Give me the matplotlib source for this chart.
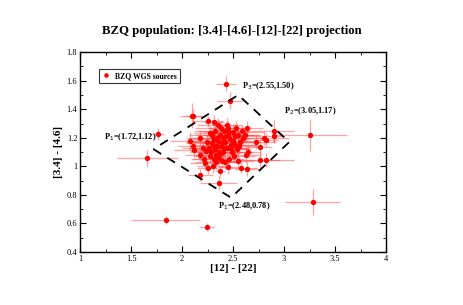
import numpy as np
import matplotlib
matplotlib.use("Agg")
import matplotlib.pyplot as plt
from matplotlib.ticker import MultipleLocator, FormatStrFormatter

plt.rcParams['font.family'] = ['Liberation Serif', 'DejaVu Serif']

# [12]-[22] colour, [3.4]-[4.6] colour and their errors
x = [2.43, 2.47, 2.10, 2.11, 1.765, 1.66, 3.255, 3.28, 1.84, 2.24,
     2.36, 2.18, 2.37, 2.90, 2.90, 2.80, 2.82, 2.76, 2.76, 2.82,
     2.72, 2.64, 2.58, 2.45, 2.64, 2.59, 2.55, 2.63, 2.08, 2.11,
     2.12, 2.18, 2.18, 2.25, 2.31, 2.21, 2.22, 2.25, 2.30, 2.33,
     2.60, 2.62, 2.56, 2.54, 2.65, 2.41, 2.44, 2.35, 2.38, 2.50,
     2.30, 2.32, 2.35, 2.38, 2.40, 2.42, 2.45, 2.47, 2.28, 2.26,
     2.33, 2.36, 2.40, 2.44, 2.48, 2.50, 2.52, 2.46, 2.43, 2.37,
     2.31, 2.29, 2.34, 2.39, 2.41, 2.36, 2.27, 2.24, 2.23, 2.49,
     2.51, 2.46, 2.42, 2.38, 2.32, 2.29, 2.45, 2.53, 2.55, 2.48,
     2.34, 2.27, 2.20, 2.31, 2.39, 2.57, 2.52]
y = [1.58, 1.46, 1.355, 1.35, 1.225, 1.055, 1.22, 0.75, 0.625, 0.575,
     0.885, 0.94, 0.965, 1.245, 1.21, 1.20, 1.185, 1.135, 1.045, 1.045,
     1.17, 0.98, 0.99, 0.995, 1.27, 1.25, 1.04, 1.08, 1.18, 1.145,
     1.115, 1.08, 1.195, 1.315, 1.31, 1.05, 1.02, 0.985, 1.00, 1.03,
     1.20, 1.22, 1.14, 1.12, 1.10, 1.25, 1.29, 1.29, 1.27, 1.24,
     1.15, 1.12, 1.18, 1.14, 1.20, 1.17, 1.22, 1.19, 1.10, 1.13,
     1.08, 1.06, 1.10, 1.13, 1.15, 1.18, 1.21, 1.24, 1.21, 1.22,
     1.19, 1.16, 1.14, 1.16, 1.13, 1.10, 1.07, 1.17, 1.11, 1.10,
     1.07, 1.05, 1.03, 1.09, 1.25, 1.22, 1.27, 1.27, 1.22, 1.12,
     1.20, 1.23, 1.13, 1.05, 1.04, 1.17, 1.15]
xerr = [0.10, 0.13, 0.12, 0.08, 0.06, 0.30, 0.36, 0.27, 0.34, 0.07,
        0.18, 0.12, 0.05, 0.20, 0.10, 0.25, 0.12, 0.12, 0.20, 0.28,
        0.20, 0.12, 0.15, 0.10, 0.15, 0.12, 0.15, 0.12, 0.20, 0.15,
        0.20, 0.15, 0.10, 0.15, 0.10, 0.12, 0.14, 0.10, 0.15, 0.20,
        0.20, 0.15, 0.18, 0.12, 0.10, 0.25, 0.15, 0.20, 0.25, 0.30,
        0.20, 0.25, 0.30, 0.20, 0.25, 0.30, 0.25, 0.20, 0.20, 0.15,
        0.20, 0.20, 0.25, 0.20, 0.25, 0.20, 0.25, 0.20, 0.20, 0.30,
        0.20, 0.25, 0.20, 0.20, 0.25, 0.20, 0.15, 0.20, 0.15, 0.20,
        0.20, 0.15, 0.15, 0.20, 0.20, 0.15, 0.20, 0.15, 0.20, 0.20,
        0.30, 0.15, 0.20, 0.20, 0.20, 0.20, 0.20]
yerr = [0.05, 0.06, 0.09, 0.05, 0.04, 0.06, 0.11, 0.09, 0.03, 0.03,
        0.05, 0.04, 0.04, 0.08, 0.04, 0.05, 0.05, 0.07, 0.06, 0.05,
        0.05, 0.05, 0.04, 0.05, 0.05, 0.04, 0.05, 0.06, 0.06, 0.04,
        0.05, 0.04, 0.05, 0.04, 0.05, 0.05, 0.05, 0.04, 0.05, 0.05,
        0.05, 0.05, 0.05, 0.05, 0.04, 0.05, 0.05, 0.05, 0.05, 0.05,
        0.05, 0.05, 0.05, 0.05, 0.04, 0.05, 0.05, 0.05, 0.05, 0.05,
        0.05, 0.06, 0.05, 0.05, 0.05, 0.05, 0.05, 0.05, 0.05, 0.05,
        0.05, 0.05, 0.05, 0.05, 0.05, 0.05, 0.05, 0.05, 0.05, 0.05,
        0.05, 0.05, 0.05, 0.05, 0.05, 0.05, 0.05, 0.05, 0.05, 0.05,
        0.05, 0.05, 0.05, 0.05, 0.05, 0.05, 0.05]

# projection box corners
box_x = [1.72, 2.48, 3.05, 2.55, 1.72]
box_y = [1.12, 0.78, 1.17, 1.50, 1.12]

fig = plt.figure(figsize=(4.63, 3.05), dpi=100)
ax = fig.add_axes([0.173, 0.174, 0.661, 0.655])

ax.errorbar(x, y, xerr=xerr, yerr=yerr, fmt='none', ecolor='#ff4848',
            elinewidth=0.9, alpha=0.5, zorder=2)
ax.plot(x, y, 'o', color='red', ms=2.8, zorder=3, label='BZQ WGS sources')
ax.plot(box_x, box_y, '--', color='black', lw=1.3, dashes=(5, 4), zorder=4)

fs = 6
ax.text(2.59, 1.55, 'P$_3$=(2.55,1.50)', fontsize=fs, fontweight='bold')
ax.text(3.00, 1.37, 'P$_2$=(3.05,1.17)', fontsize=fs, fontweight='bold')
ax.text(1.23, 1.19, 'P$_1$=(1.72,1.12)', fontsize=fs, fontweight='bold')
ax.text(2.35, 0.71, 'P$_1$=(2.48,0.78)', fontsize=fs, fontweight='bold')

ax.set_xlim(1, 4)
ax.set_ylim(0.4, 1.8)
ax.xaxis.set_major_locator(MultipleLocator(0.5))
ax.xaxis.set_minor_locator(MultipleLocator(0.25))
ax.yaxis.set_major_locator(MultipleLocator(0.2))
ax.yaxis.set_minor_locator(MultipleLocator(0.1))
ax.xaxis.set_major_formatter(FormatStrFormatter('%g'))
ax.yaxis.set_major_formatter(FormatStrFormatter('%g'))
ax.tick_params(which='both', direction='in', top=True, right=True,
               labelsize=6, pad=2)
ax.tick_params(which='major', length=4)
ax.tick_params(which='minor', length=2)
for s in ax.spines.values():
    s.set_linewidth(1.0)

ax.set_xlabel('[12] - [22]', fontsize=8, fontweight='bold', labelpad=1)
ax.set_ylabel('[3.4] - [4.6]', fontsize=8, fontweight='bold', labelpad=3)
fig.text(0.5, 0.89, 'BZQ population: [3.4]-[4.6]-[12]-[22] projection',
         ha='center', fontsize=9.2, fontweight='bold')

leg = ax.legend(loc='upper left', bbox_to_anchor=(0.048, 0.935),
                prop={'weight': 'bold', 'size': 5.5}, frameon=True,
                fancybox=False, edgecolor='black', handlelength=1.2,
                borderpad=0.4, handletextpad=0.6, markerscale=0.8)
leg.get_frame().set_linewidth(0.8)

fig.savefig('out.png', dpi=100)
